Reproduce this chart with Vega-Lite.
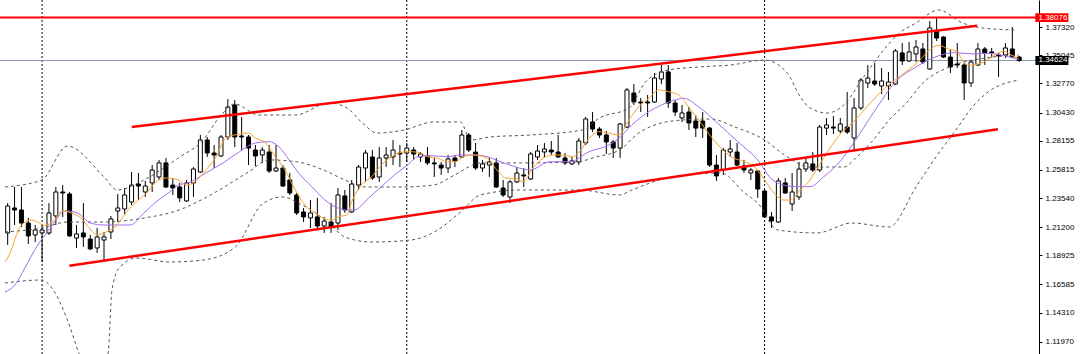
{
"$schema":"https://vega.github.io/schema/vega-lite/v6.json",
"width":1039,"height":354,"autosize":{"type":"none"},"padding":{"left":0,"top":0,"right":41,"bottom":0},"background":"white",
"config":{"view":{"stroke":null},"font":"Liberation Sans","axisY":{"title":null,"grid":false,"labelFont":"Liberation Sans","labelFontSize":8,"labelColor":"#000000","tickColor":"#000000","tickSize":3,"domainColor":"#000000","labelPadding":3,"labelOverlap":false,"labelFlush":false,"labelBound":false,"format":".5f"}},
"datasets":{
"candles":[
{"i":0,"o":1.2073,"h":1.2314,"l":1.1976,"c":1.2290},{"i":1,"o":1.2274,"h":1.2443,"l":1.2137,"c":1.2258},{"i":2,"o":1.2258,"h":1.2443,"l":1.2121,"c":1.2153},{"i":3,"o":1.2153,"h":1.2194,"l":1.1984,"c":1.2049},{"i":4,"o":1.2057,"h":1.2137,"l":1.2000,"c":1.2097},{"i":5,"o":1.2073,"h":1.2137,"l":1.1839,"c":1.2097},{"i":6,"o":1.2073,"h":1.2314,"l":1.2057,"c":1.2234},{"i":7,"o":1.2210,"h":1.2443,"l":1.2137,"c":1.2403},{"i":8,"o":1.2403,"h":1.2459,"l":1.2202,"c":1.2395},{"i":9,"o":1.2387,"h":1.2403,"l":1.2041,"c":1.2049},
{"i":10,"o":1.2032,"h":1.2137,"l":1.1952,"c":1.2065},{"i":11,"o":1.2073,"h":1.2314,"l":1.1960,"c":1.2041},{"i":12,"o":1.2024,"h":1.2057,"l":1.1936,"c":1.1944},{"i":13,"o":1.1952,"h":1.2113,"l":1.1912,"c":1.2041},{"i":14,"o":1.2016,"h":1.2081,"l":1.1839,"c":1.2041},{"i":15,"o":1.2081,"h":1.2210,"l":1.2024,"c":1.2186},{"i":16,"o":1.2250,"h":1.2387,"l":1.2161,"c":1.2274},{"i":17,"o":1.2266,"h":1.2435,"l":1.2218,"c":1.2379},{"i":18,"o":1.2322,"h":1.2564,"l":1.2298,"c":1.2459},{"i":19,"o":1.2467,"h":1.2556,"l":1.2339,"c":1.2451},
{"i":20,"o":1.2403,"h":1.2492,"l":1.2363,"c":1.2451},{"i":21,"o":1.2476,"h":1.2620,"l":1.2403,"c":1.2580},{"i":22,"o":1.2524,"h":1.2661,"l":1.2500,"c":1.2637},{"i":23,"o":1.2637,"h":1.2677,"l":1.2435,"c":1.2443},{"i":24,"o":1.2459,"h":1.2516,"l":1.2379,"c":1.2435},{"i":25,"o":1.2443,"h":1.2476,"l":1.2322,"c":1.2355},{"i":26,"o":1.2331,"h":1.2500,"l":1.2322,"c":1.2476},{"i":27,"o":1.2476,"h":1.2604,"l":1.2363,"c":1.2588},{"i":28,"o":1.2564,"h":1.2862,"l":1.2556,"c":1.2822},{"i":29,"o":1.2822,"h":1.2846,"l":1.2685,"c":1.2717},
{"i":30,"o":1.2717,"h":1.2781,"l":1.2596,"c":1.2701},{"i":31,"o":1.2693,"h":1.2862,"l":1.2685,"c":1.2846},{"i":32,"o":1.2846,"h":1.3152,"l":1.2822,"c":1.3088},{"i":33,"o":1.3104,"h":1.3144,"l":1.2765,"c":1.2846},{"i":34,"o":1.2854,"h":1.3007,"l":1.2741,"c":1.2846},{"i":35,"o":1.2846,"h":1.2862,"l":1.2620,"c":1.2757},{"i":36,"o":1.2741,"h":1.2781,"l":1.2612,"c":1.2693},{"i":37,"o":1.2701,"h":1.2765,"l":1.2637,"c":1.2741},{"i":38,"o":1.2725,"h":1.2781,"l":1.2556,"c":1.2572},{"i":39,"o":1.2572,"h":1.2781,"l":1.2564,"c":1.2596},
{"i":40,"o":1.2596,"h":1.2620,"l":1.2443,"c":1.2451},{"i":41,"o":1.2500,"h":1.2556,"l":1.2379,"c":1.2395},{"i":42,"o":1.2379,"h":1.2395,"l":1.2218,"c":1.2234},{"i":43,"o":1.2242,"h":1.2274,"l":1.2161,"c":1.2202},{"i":44,"o":1.2194,"h":1.2339,"l":1.2113,"c":1.2234},{"i":45,"o":1.2202,"h":1.2355,"l":1.2113,"c":1.2129},{"i":46,"o":1.2129,"h":1.2202,"l":1.2073,"c":1.2169},{"i":47,"o":1.2161,"h":1.2314,"l":1.2073,"c":1.2121},{"i":48,"o":1.2153,"h":1.2435,"l":1.2097,"c":1.2379},{"i":49,"o":1.2371,"h":1.2419,"l":1.2234,"c":1.2258},
{"i":50,"o":1.2242,"h":1.2500,"l":1.2234,"c":1.2467},{"i":51,"o":1.2459,"h":1.2620,"l":1.2419,"c":1.2604},{"i":52,"o":1.2596,"h":1.2741,"l":1.2484,"c":1.2717},{"i":53,"o":1.2685,"h":1.2741,"l":1.2500,"c":1.2516},{"i":54,"o":1.2524,"h":1.2765,"l":1.2484,"c":1.2677},{"i":55,"o":1.2677,"h":1.2765,"l":1.2604,"c":1.2701},{"i":56,"o":1.2685,"h":1.2822,"l":1.2620,"c":1.2741},{"i":57,"o":1.2717,"h":1.2781,"l":1.2604,"c":1.2709},{"i":58,"o":1.2717,"h":1.2798,"l":1.2645,"c":1.2757},{"i":59,"o":1.2741,"h":1.2765,"l":1.2661,"c":1.2709},
{"i":60,"o":1.2685,"h":1.2725,"l":1.2645,"c":1.2709},{"i":61,"o":1.2693,"h":1.2765,"l":1.2620,"c":1.2637},{"i":62,"o":1.2637,"h":1.2677,"l":1.2524,"c":1.2629},{"i":63,"o":1.2620,"h":1.2645,"l":1.2540,"c":1.2596},{"i":64,"o":1.2596,"h":1.2701,"l":1.2556,"c":1.2669},{"i":65,"o":1.2677,"h":1.2701,"l":1.2604,"c":1.2653},{"i":66,"o":1.2685,"h":1.2902,"l":1.2677,"c":1.2862},{"i":67,"o":1.2862,"h":1.2878,"l":1.2725,"c":1.2741},{"i":68,"o":1.2725,"h":1.2798,"l":1.2580,"c":1.2596},{"i":69,"o":1.2596,"h":1.2661,"l":1.2564,"c":1.2629},
{"i":70,"o":1.2620,"h":1.2677,"l":1.2524,"c":1.2645},{"i":71,"o":1.2637,"h":1.2677,"l":1.2435,"c":1.2443},{"i":72,"o":1.2435,"h":1.2500,"l":1.2363,"c":1.2379},{"i":73,"o":1.2363,"h":1.2500,"l":1.2314,"c":1.2484},{"i":74,"o":1.2484,"h":1.2604,"l":1.2476,"c":1.2556},{"i":75,"o":1.2540,"h":1.2596,"l":1.2443,"c":1.2532},{"i":76,"o":1.2508,"h":1.2725,"l":1.2500,"c":1.2709},{"i":77,"o":1.2685,"h":1.2781,"l":1.2661,"c":1.2733},{"i":78,"o":1.2725,"h":1.2798,"l":1.2677,"c":1.2749},{"i":79,"o":1.2741,"h":1.2814,"l":1.2701,"c":1.2725},
{"i":80,"o":1.2725,"h":1.2862,"l":1.2677,"c":1.2685},{"i":81,"o":1.2677,"h":1.2717,"l":1.2620,"c":1.2637},{"i":82,"o":1.2629,"h":1.2685,"l":1.2620,"c":1.2653},{"i":83,"o":1.2645,"h":1.2838,"l":1.2620,"c":1.2814},{"i":84,"o":1.2798,"h":1.3007,"l":1.2781,"c":1.2991},{"i":85,"o":1.2967,"h":1.3047,"l":1.2886,"c":1.2910},{"i":86,"o":1.2910,"h":1.2926,"l":1.2838,"c":1.2862},{"i":87,"o":1.2862,"h":1.2894,"l":1.2709,"c":1.2806},{"i":88,"o":1.2806,"h":1.2822,"l":1.2677,"c":1.2757},{"i":89,"o":1.2757,"h":1.2959,"l":1.2677,"c":1.2951},
{"i":90,"o":1.2926,"h":1.3241,"l":1.2918,"c":1.3225},{"i":91,"o":1.3200,"h":1.3273,"l":1.3104,"c":1.3128},{"i":92,"o":1.3128,"h":1.3160,"l":1.3047,"c":1.3120},{"i":93,"o":1.3128,"h":1.3184,"l":1.3007,"c":1.3120},{"i":94,"o":1.3128,"h":1.3361,"l":1.3120,"c":1.3321},{"i":95,"o":1.3313,"h":1.3426,"l":1.3273,"c":1.3370},{"i":96,"o":1.3370,"h":1.3426,"l":1.3080,"c":1.3120},{"i":97,"o":1.3120,"h":1.3144,"l":1.3015,"c":1.3047},{"i":98,"o":1.2999,"h":1.3104,"l":1.2967,"c":1.3039},{"i":99,"o":1.3047,"h":1.3088,"l":1.2902,"c":1.2959},
{"i":100,"o":1.2975,"h":1.3023,"l":1.2846,"c":1.2918},{"i":101,"o":1.2975,"h":1.3047,"l":1.2838,"c":1.2918},{"i":102,"o":1.2918,"h":1.2926,"l":1.2604,"c":1.2620},{"i":103,"o":1.2620,"h":1.2701,"l":1.2492,"c":1.2532},{"i":104,"o":1.2580,"h":1.2757,"l":1.2540,"c":1.2741},{"i":105,"o":1.2725,"h":1.2822,"l":1.2685,"c":1.2749},{"i":106,"o":1.2725,"h":1.2798,"l":1.2612,"c":1.2620},{"i":107,"o":1.2612,"h":1.2661,"l":1.2556,"c":1.2580},{"i":108,"o":1.2556,"h":1.2596,"l":1.2500,"c":1.2580},{"i":109,"o":1.2572,"h":1.2580,"l":1.2355,"c":1.2427},
{"i":110,"o":1.2411,"h":1.2419,"l":1.2194,"c":1.2202},{"i":111,"o":1.2202,"h":1.2242,"l":1.2113,"c":1.2169},{"i":112,"o":1.2161,"h":1.2516,"l":1.2153,"c":1.2492},{"i":113,"o":1.2476,"h":1.2516,"l":1.2387,"c":1.2395},{"i":114,"o":1.2306,"h":1.2556,"l":1.2250,"c":1.2403},{"i":115,"o":1.2363,"h":1.2645,"l":1.2339,"c":1.2588},{"i":116,"o":1.2588,"h":1.2677,"l":1.2564,"c":1.2637},{"i":117,"o":1.2629,"h":1.2725,"l":1.2564,"c":1.2580},{"i":118,"o":1.2580,"h":1.2943,"l":1.2564,"c":1.2926},{"i":119,"o":1.2918,"h":1.2999,"l":1.2862,"c":1.2943},
{"i":120,"o":1.2926,"h":1.3015,"l":1.2870,"c":1.2918},{"i":121,"o":1.2894,"h":1.2999,"l":1.2878,"c":1.2951},{"i":122,"o":1.2926,"h":1.3209,"l":1.2870,"c":1.2886},{"i":123,"o":1.2838,"h":1.3160,"l":1.2741,"c":1.3080},{"i":124,"o":1.3080,"h":1.3321,"l":1.3063,"c":1.3305},{"i":125,"o":1.3281,"h":1.3426,"l":1.3241,"c":1.3321},{"i":126,"o":1.3297,"h":1.3442,"l":1.3257,"c":1.3273},{"i":127,"o":1.3257,"h":1.3402,"l":1.3192,"c":1.3297},{"i":128,"o":1.3257,"h":1.3370,"l":1.3144,"c":1.3289},{"i":129,"o":1.3273,"h":1.3555,"l":1.3265,"c":1.3539},
{"i":130,"o":1.3523,"h":1.3603,"l":1.3426,"c":1.3458},{"i":131,"o":1.3458,"h":1.3611,"l":1.3450,"c":1.3531},{"i":132,"o":1.3515,"h":1.3627,"l":1.3450,"c":1.3571},{"i":133,"o":1.3555,"h":1.3603,"l":1.3434,"c":1.3450},{"i":134,"o":1.3394,"h":1.3780,"l":1.3386,"c":1.3724},{"i":135,"o":1.3700,"h":1.3804,"l":1.3619,"c":1.3643},{"i":136,"o":1.3651,"h":1.3659,"l":1.3482,"c":1.3490},{"i":137,"o":1.3490,"h":1.3547,"l":1.3361,"c":1.3410},{"i":138,"o":1.3434,"h":1.3603,"l":1.3402,"c":1.3426},{"i":139,"o":1.3426,"h":1.3442,"l":1.3144,"c":1.3281},
{"i":140,"o":1.3281,"h":1.3466,"l":1.3249,"c":1.3450},{"i":141,"o":1.3426,"h":1.3603,"l":1.3418,"c":1.3555},{"i":142,"o":1.3555,"h":1.3571,"l":1.3426,"c":1.3523},{"i":143,"o":1.3531,"h":1.3563,"l":1.3482,"c":1.3523},{"i":144,"o":1.3507,"h":1.3523,"l":1.3329,"c":1.3499},{"i":145,"o":1.3507,"h":1.3603,"l":1.3482,"c":1.3563},{"i":146,"o":1.3555,"h":1.3732,"l":1.3482,"c":1.3490},{"i":147,"o":1.3490,"h":1.3498,"l":1.3450,"c":1.3462}
],
"maf":[
{"i":-0.39,"v":1.1839},{"i":0,"v":1.1871},{"i":2.0,"v":1.2137},{"i":3.45,"v":1.2177},{"i":4.36,"v":1.2161},{"i":5.37,"v":1.2132},{"i":6.8,"v":1.2177},{"i":7.96,"v":1.2252},{"i":9.2,"v":1.2234},{"i":10.65,"v":1.2194},{"i":12.1,"v":1.2097},{"i":13,"v":1.2057},{"i":14.4,"v":1.2083},{"i":15.9,"v":1.2137},{"i":17.3,"v":1.2244},{"i":18.75,"v":1.2325},{"i":20.2,"v":1.2395},{"i":21.6,"v":1.2486},{"i":23.1,"v":1.2516},{"i":24.8,"v":1.2500},{"i":25.95,"v":1.2459},{"i":26.96,"v":1.2476},{"i":28.8,"v":1.2580},{"i":30.3,"v":1.2687},{"i":31.7,"v":1.2838},{"i":33.7,"v":1.2870},{"i":35,"v":1.2878},{"i":36,"v":1.2838},{"i":37.5,"v":1.2798},{"i":38.9,"v":1.2687},{"i":40.3,"v":1.2580},{"i":41.8,"v":1.2419},{"i":43.2,"v":1.2298},{"i":44.7,"v":1.2234},{"i":46.1,"v":1.2186},{"i":47.1,"v":1.2177},{"i":48.1,"v":1.2204},{"i":49.3,"v":1.2218},{"i":50,"v":1.2325},{"i":51.4,"v":1.2459},{"i":52.9,"v":1.2526},{"i":54.3,"v":1.2620},{"i":56.2,"v":1.2701},{"i":58.1,"v":1.2728},{"i":59.6,"v":1.2723},{"i":61,"v":1.2687},{"i":62.5,"v":1.2674},{"i":63.9,"v":1.2647},{"i":65.1,"v":1.2647},{"i":66.2,"v":1.2687},{"i":67.7,"v":1.2701},{"i":69.7,"v":1.2674},{"i":71.1,"v":1.2580},{"i":72.5,"v":1.2513},{"i":73.7,"v":1.2513},{"i":74.9,"v":1.2486},{"i":76.3,"v":1.2594},{"i":77.8,"v":1.2674},{"i":79.2,"v":1.2701},{"i":80.6,"v":1.2701},{"i":82.1,"v":1.2687},{"i":83.1,"v":1.2728},{"i":84.5,"v":1.2835},{"i":85.9,"v":1.2889},{"i":87.4,"v":1.2876},{"i":88.8,"v":1.2862},{"i":90.3,"v":1.2983},{"i":91.7,"v":1.3090},{"i":93.2,"v":1.3158},{"i":94.6,"v":1.3225},{"i":96.0,"v":1.3211},{"i":97.5,"v":1.3184},{"i":99.3,"v":1.3063},{"i":100.8,"v":1.2956},{"i":102.2,"v":1.2848},{"i":103.7,"v":1.2755},{"i":105.1,"v":1.2687},{"i":107.1,"v":1.2647},{"i":108.5,"v":1.2607},{"i":110,"v":1.2500},{"i":111.4,"v":1.2392},{"i":112.8,"v":1.2338},{"i":113.7,"v":1.2338},{"i":115.2,"v":1.2419},{"i":116.6,"v":1.2500},{"i":118.1,"v":1.2634},{"i":119.5,"v":1.2755},{"i":120.9,"v":1.2862},{"i":122.9,"v":1.2967},{"i":125.1,"v":1.3104},{"i":127.4,"v":1.3235},{"i":129.9,"v":1.3345},{"i":132.3,"v":1.3450},{"i":134.2,"v":1.3557},{"i":135.3,"v":1.3585},{"i":136.6,"v":1.3557},{"i":138,"v":1.3531},{"i":138.9,"v":1.3450},{"i":139.9,"v":1.3423},{"i":141.8,"v":1.3450},{"i":143.8,"v":1.3517},{"i":144.7,"v":1.3536},{"i":145.9,"v":1.3504},{"i":146.9,"v":1.3477}
],
"mas":[
{"i":-0.39,"v":1.1597},{"i":1.05,"v":1.1654},{"i":2.5,"v":1.1791},{"i":4.36,"v":1.1976},{"i":5.8,"v":1.2083},{"i":7.24,"v":1.2194},{"i":8.25,"v":1.2252},{"i":10.1,"v":1.2234},{"i":12.1,"v":1.2151},{"i":14,"v":1.2137},{"i":15.9,"v":1.2137},{"i":17.8,"v":1.2137},{"i":19.8,"v":1.2234},{"i":21.6,"v":1.2325},{"i":23.6,"v":1.2405},{"i":24.8,"v":1.2459},{"i":26.2,"v":1.2476},{"i":28.8,"v":1.2556},{"i":31.3,"v":1.2637},{"i":33.7,"v":1.2728},{"i":36,"v":1.2798},{"i":38,"v":1.2808},{"i":39.4,"v":1.2768},{"i":40.9,"v":1.2661},{"i":42.3,"v":1.2554},{"i":44.2,"v":1.2446},{"i":46.1,"v":1.2339},{"i":48.1,"v":1.2272},{"i":49.3,"v":1.2258},{"i":50.4,"v":1.2258},{"i":52.4,"v":1.2352},{"i":54.3,"v":1.2446},{"i":56.2,"v":1.2540},{"i":58.1,"v":1.2620},{"i":59.6,"v":1.2687},{"i":61.5,"v":1.2695},{"i":63.9,"v":1.2687},{"i":65.8,"v":1.2701},{"i":67.7,"v":1.2701},{"i":69.7,"v":1.2687},{"i":71.6,"v":1.2647},{"i":73.7,"v":1.2607},{"i":75.9,"v":1.2580},{"i":78.8,"v":1.2647},{"i":81.7,"v":1.2647},{"i":84.5,"v":1.2728},{"i":87.4,"v":1.2782},{"i":88.8,"v":1.2835},{"i":90.7,"v":1.2943},{"i":93.2,"v":1.3050},{"i":95,"v":1.3104},{"i":97,"v":1.3144},{"i":98.2,"v":1.3158},{"i":100.4,"v":1.3090},{"i":103.2,"v":1.2956},{"i":106.1,"v":1.2808},{"i":109,"v":1.2661},{"i":110.9,"v":1.2513},{"i":112.8,"v":1.2459},{"i":114.8,"v":1.2446},{"i":116.6,"v":1.2446},{"i":118.6,"v":1.2526},{"i":120.5,"v":1.2620},{"i":122.9,"v":1.2795},{"i":125.8,"v":1.3040},{"i":129.2,"v":1.3300},{"i":132,"v":1.3410},{"i":134.9,"v":1.3493},{"i":137.8,"v":1.3525},{"i":140.2,"v":1.3515},{"i":142.5,"v":1.3520},{"i":145.4,"v":1.3493},{"i":146.9,"v":1.3472}
],
"bbu":[
{"i":-0.39,"v":1.2443},{"i":4.94,"v":1.2500},{"i":8.68,"v":1.2773},{"i":14.0,"v":1.2524},{"i":15.9,"v":1.2419},{"i":19.8,"v":1.2500},{"i":24.8,"v":1.2677},{"i":28.4,"v":1.2822},{"i":30.8,"v":1.3007},{"i":33.0,"v":1.3112},{"i":36.5,"v":1.3023},{"i":41.8,"v":1.3023},{"i":46.7,"v":1.3120},{"i":49.3,"v":1.3080},{"i":51.4,"v":1.2967},{"i":53.7,"v":1.2878},{"i":57.6,"v":1.2902},{"i":61.9,"v":1.2967},{"i":65.8,"v":1.2967},{"i":67.3,"v":1.2822},{"i":70.1,"v":1.2846},{"i":75.9,"v":1.2862},{"i":83.5,"v":1.2902},{"i":86.0,"v":1.2999},{"i":90.3,"v":1.3080},{"i":92.7,"v":1.3289},{"i":96.0,"v":1.3386},{"i":100.4,"v":1.3410},{"i":105.1,"v":1.3426},{"i":110.0,"v":1.3466},{"i":113.3,"v":1.3361},{"i":115.2,"v":1.3168},{"i":116.6,"v":1.3080},{"i":119.1,"v":1.3039},{"i":121.5,"v":1.3104},{"i":124.4,"v":1.3329},{"i":127.3,"v":1.3547},{"i":129.6,"v":1.3684},{"i":132.0,"v":1.3764},{"i":135.3,"v":1.3869},{"i":138.8,"v":1.3764},{"i":141.7,"v":1.3724},{"i":146.4,"v":1.3708}
],
"bbm":[
{"i":-0.39,"v":1.2081},{"i":4.94,"v":1.2113},{"i":8.68,"v":1.2161},{"i":14.0,"v":1.2161},{"i":19.9,"v":1.2194},{"i":24.9,"v":1.2258},{"i":30.0,"v":1.2395},{"i":35.0,"v":1.2564},{"i":38.0,"v":1.2661},{"i":42.1,"v":1.2645},{"i":45.9,"v":1.2580},{"i":49.0,"v":1.2500},{"i":52.0,"v":1.2443},{"i":57.0,"v":1.2443},{"i":61.9,"v":1.2459},{"i":64.95,"v":1.2540},{"i":68.7,"v":1.2637},{"i":74.5,"v":1.2637},{"i":82.7,"v":1.2645},{"i":85.5,"v":1.2685},{"i":88.9,"v":1.2741},{"i":91.7,"v":1.2878},{"i":95.0,"v":1.2959},{"i":98.2,"v":1.2983},{"i":102.2,"v":1.2991},{"i":105.7,"v":1.2926},{"i":110.0,"v":1.2822},{"i":112.9,"v":1.2701},{"i":116.6,"v":1.2604},{"i":121.5,"v":1.2604},{"i":123.4,"v":1.2685},{"i":125.8,"v":1.2822},{"i":128.1,"v":1.2983},{"i":130.6,"v":1.3120},{"i":133.0,"v":1.3281},{"i":136.8,"v":1.3410},{"i":142.1,"v":1.3482},{"i":146.9,"v":1.3506}
],
"bbl":[
{"i":-0.39,"v":1.1670},{"i":4.94,"v":1.1694},{"i":6.81,"v":1.1597},{"i":8.68,"v":1.1372},{"i":10.4,"v":1.1098},{"i":12.56,"v":1.0848},{"i":14.58,"v":1.1098},{"i":15.16,"v":1.1614},{"i":16.2,"v":1.1791},{"i":18.75,"v":1.1871},{"i":23.6,"v":1.1839},{"i":28.4,"v":1.1855},{"i":33.1,"v":1.1960},{"i":37.0,"v":1.2306},{"i":39.9,"v":1.2363},{"i":42.8,"v":1.2298},{"i":46.7,"v":1.2153},{"i":49.0,"v":1.2040},{"i":52.9,"v":1.2000},{"i":58.6,"v":1.2016},{"i":62.5,"v":1.2097},{"i":65.8,"v":1.2242},{"i":68.7,"v":1.2379},{"i":74.5,"v":1.2419},{"i":83.1,"v":1.2419},{"i":88.9,"v":1.2379},{"i":90.7,"v":1.2419},{"i":96.5,"v":1.2524},{"i":103.7,"v":1.2556},{"i":107.1,"v":1.2395},{"i":109.0,"v":1.2314},{"i":111.9,"v":1.2097},{"i":117.6,"v":1.2073},{"i":122.7,"v":1.2153},{"i":128.1,"v":1.2121},{"i":132.0,"v":1.2443},{"i":134.9,"v":1.2685},{"i":137.8,"v":1.2902},{"i":140.2,"v":1.3088},{"i":142.5,"v":1.3209},{"i":146.9,"v":1.3305}
],
"trend":[
{"line":"upper","i":18.03,"v":1.29265},{"line":"upper","i":140.9,"v":1.37425},{"line":"lower","i":8.97,"v":1.18093},{"line":"lower","i":143.9,"v":1.29080}
],
"levels":[{"v":1.38076,"kind":"level"},{"v":1.34624,"kind":"price"}]
},
"layer":[
{"data":{"values":[{"i":5},{"i":58},{"i":110}]},
 "mark":{"type":"rule","color":"#000000","strokeWidth":1,"strokeDash":[2,2]},
 "encoding":{"x":{"field":"i","type":"quantitative","scale":{"domain":[-0.389,149.15],"nice":false,"zero":false},"axis":null}}},
{"data":{"values":[{"v":1.34624}]},
 "mark":{"type":"rule","color":"#8a9bb0","strokeWidth":1},
 "encoding":{"y":{"field":"v","type":"quantitative","scale":{"domain":[1.10979,1.39495],"nice":false,"zero":false},"title":null,"axis":{"orient":"right","values":[1.1197,1.1431,1.16585,1.18925,1.212,1.2354,1.25815,1.28155,1.3043,1.3277,1.35045,1.3732],"format":".5f","title":null}}}},
{"data":{"name":"candles"},
 "mark":{"type":"rule","color":"#000000","strokeWidth":1},
 "encoding":{
  "x":{"field":"i","type":"quantitative","scale":{"domain":[-0.389,149.15],"nice":false,"zero":false},"axis":null},
  "y":{"field":"l","type":"quantitative","scale":{"domain":[1.10979,1.39495],"nice":false,"zero":false},"title":null,"axis":{"orient":"right","values":[1.1197,1.1431,1.16585,1.18925,1.212,1.2354,1.25815,1.28155,1.3043,1.3277,1.35045,1.3732],"format":".5f","title":null}},
  "y2":{"field":"h"}}},
{"data":{"name":"candles"},
 "mark":{"type":"bar","size":4,"stroke":"#000000","strokeWidth":1},
 "encoding":{
  "x":{"field":"i","type":"quantitative","scale":{"domain":[-0.389,149.15],"nice":false,"zero":false},"axis":null},
  "y":{"field":"o","type":"quantitative","scale":{"domain":[1.10979,1.39495],"nice":false,"zero":false},"title":null,"axis":{"orient":"right","values":[1.1197,1.1431,1.16585,1.18925,1.212,1.2354,1.25815,1.28155,1.3043,1.3277,1.35045,1.3732],"format":".5f","title":null}},
  "y2":{"field":"c"},
  "fill":{"condition":{"test":"datum.c >= datum.o","value":"#ffffff"},"value":"#000000"}}},
{"layer":[
 {"data":{"name":"bbu"},"mark":{"type":"line","color":"#555555","strokeWidth":1,"strokeDash":[3,3],"clip":true,"interpolate":"monotone"}},
 {"data":{"name":"bbm"},"mark":{"type":"line","color":"#555555","strokeWidth":1,"strokeDash":[3,3],"clip":true,"interpolate":"monotone"}},
 {"data":{"name":"bbl"},"mark":{"type":"line","color":"#555555","strokeWidth":1,"strokeDash":[3,3],"clip":true,"interpolate":"monotone"}},
 {"data":{"name":"mas"},"mark":{"type":"line","color":"#a56cf0","strokeWidth":1,"clip":true,"interpolate":"monotone"}},
 {"data":{"name":"maf"},"mark":{"type":"line","color":"#f7a42c","strokeWidth":1,"clip":true,"interpolate":"monotone"}},
 {"data":{"name":"trend"},"mark":{"type":"line","color":"#ff0000","strokeWidth":2.5},"encoding":{"detail":{"field":"line","type":"nominal"}}}
 ],
 "encoding":{
  "x":{"field":"i","type":"quantitative","scale":{"domain":[-0.389,149.15],"nice":false,"zero":false},"axis":null},
  "y":{"field":"v","type":"quantitative","scale":{"domain":[1.10979,1.39495],"nice":false,"zero":false},"title":null,"axis":{"orient":"right","values":[1.1197,1.1431,1.16585,1.18925,1.212,1.2354,1.25815,1.28155,1.3043,1.3277,1.35045,1.3732],"format":".5f","title":null}}}},
{"data":{"values":[{"v":1.38076}]},"mark":{"type":"rule","color":"#ff0000","strokeWidth":2},
 "encoding":{"y":{"field":"v","type":"quantitative","scale":{"domain":[1.10979,1.39495],"nice":false,"zero":false},"title":null,"axis":{"orient":"right","values":[1.1197,1.1431,1.16585,1.18925,1.212,1.2354,1.25815,1.28155,1.3043,1.3277,1.35045,1.3732],"format":".5f","title":null}}}},
{"data":{"name":"levels"},
 "mark":{"type":"point","shape":"M-1,-0.27H1V0.27H-1Z","size":1089,"filled":true,"strokeWidth":0,"opacity":1},
 "encoding":{
  "x":{"datum":151.75,"type":"quantitative","scale":{"domain":[-0.389,149.15],"nice":false,"zero":false},"axis":null},
  "y":{"field":"v","type":"quantitative","scale":{"domain":[1.10979,1.39495],"nice":false,"zero":false},"title":null,"axis":{"orient":"right","values":[1.1197,1.1431,1.16585,1.18925,1.212,1.2354,1.25815,1.28155,1.3043,1.3277,1.35045,1.3732],"format":".5f","title":null}},
  "fill":{"field":"kind","type":"nominal","scale":{"domain":["level","price"],"range":["#ff0000","#000000"]},"legend":null}}},
{"data":{"name":"levels"},
 "mark":{"type":"text","color":"#ffffff","font":"Liberation Sans","fontSize":8,"align":"center","baseline":"middle"},
 "encoding":{
  "x":{"datum":151.9,"type":"quantitative","scale":{"domain":[-0.389,149.15],"nice":false,"zero":false},"axis":null},
  "y":{"field":"v","type":"quantitative","scale":{"domain":[1.10979,1.39495],"nice":false,"zero":false},"title":null,"axis":{"orient":"right","values":[1.1197,1.1431,1.16585,1.18925,1.212,1.2354,1.25815,1.28155,1.3043,1.3277,1.35045,1.3732],"format":".5f","title":null}},
  "text":{"field":"v","type":"quantitative","format":".5f"}}}
]
}
